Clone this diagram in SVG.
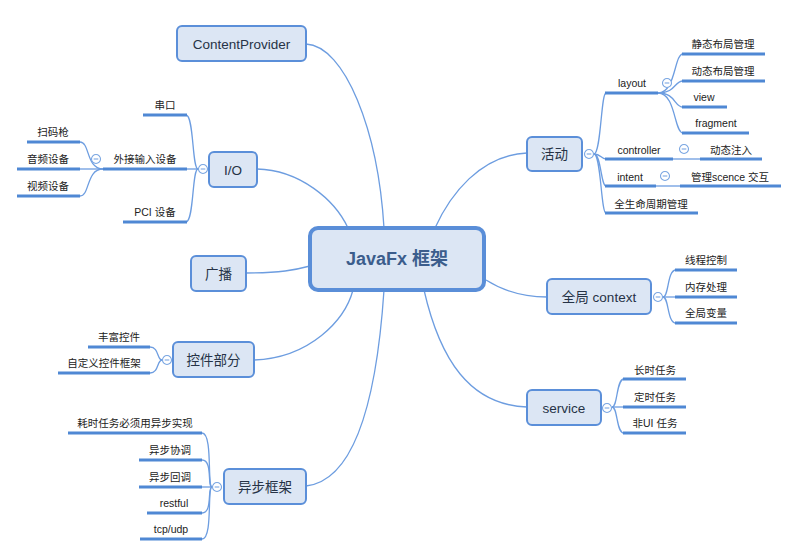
<svg xmlns="http://www.w3.org/2000/svg" xmlns:xlink="http://www.w3.org/1999/xlink" width="800" height="542" viewBox="0 0 800 542">
<style>
text{font-family:"Liberation Sans","Noto Sans CJK SC",sans-serif;fill:#222;}
.box{fill:#dce6f4;stroke:#5b8fd9;stroke-width:2;}
.root{fill:#dce6f4;stroke:#5a8ed8;stroke-width:4;}
.lbl{font-size:13.5px;text-anchor:middle;fill:#263346;}
.rt{font-size:18px;font-weight:bold;text-anchor:middle;fill:#3b5d8c;}
.sub{font-size:10.5px;text-anchor:middle;}
.ul{stroke:#4f88d4;stroke-width:3;fill:none;}
.ln{stroke:#6d9de0;stroke-width:1.3;fill:none;}
.col circle{fill:#fff;stroke:#7aa6e2;stroke-width:1.1;}
.col line{stroke:#7aa6e2;stroke-width:1.1;}
</style>
<defs>
<g id="minus" class="col"><circle cx="0" cy="0" r="4.5"/><line x1="-2.3" y1="0" x2="2.3" y2="0"/></g>
</defs>
<rect width="800" height="542" fill="#fff"/>

<g id="connectors">
<!-- main -->
<path class="ln" d="M306,44 C345,46 378,130 384,228"/>
<path class="ln" d="M257,169 C300,170 335,200 348,228"/>
<path class="ln" d="M246,273 C280,273 295,270 310,266"/>
<path class="ln" d="M254,360 C310,358 345,320 353,290"/>
<path class="ln" d="M306,486 C360,480 378,380 384,290"/>
<path class="ln" d="M527,153 C480,155 450,195 435,228"/>
<path class="ln" d="M486,280 C505,292 525,297 547,297"/>
<path class="ln" d="M527,407 C470,405 440,360 424,290"/>
<!-- 活动 children -->
<path class="ln" d="M594,154 C601,154 601,93 606,93"/>
<path class="ln" d="M594,154 C601,154 601,159 606,159"/>
<path class="ln" d="M594,154 C601,154 601,186 606,186"/>
<path class="ln" d="M594,154 C601,154 601,213 606,213"/>
<!-- layout children -->
<path class="ln" d="M658,93 C676,93 674,54 683,54"/>
<path class="ln" d="M658,93 C676,93 674,81 683,81"/>
<path class="ln" d="M658,93 C676,93 674,107 683,107"/>
<path class="ln" d="M658,93 C676,93 674,133 683,133"/>
<path class="ln" d="M673,159 L700,159"/>
<path class="ln" d="M656,186 L680,186"/>
<!-- I/O children -->
<path class="ln" d="M198,169 C192,169 194,115 186,115"/>
<path class="ln" d="M198,169 L187,169"/>
<path class="ln" d="M198,169 C192,169 194,222 186,222"/>
<!-- 外接输入设备 children -->
<path class="ln" d="M103,169 C86,169 90,142 80,142"/>
<path class="ln" d="M103,169 L80,169"/>
<path class="ln" d="M103,169 C86,169 90,196 80,196"/>
<!-- 控件部分 children -->
<path class="ln" d="M162,360 C157,360 159,347 150,347"/>
<path class="ln" d="M162,360 C157,360 159,373 150,373"/>
<!-- 异步框架 children -->
<path class="ln" d="M212,487 C207,487 213,433 202,433"/>
<path class="ln" d="M212,487 C207,487 213,460 202,460"/>
<path class="ln" d="M212,487 L202,487"/>
<path class="ln" d="M212,487 C207,487 213,513 202,513"/>
<path class="ln" d="M212,487 C207,487 213,539 202,539"/>
<!-- 全局 context children -->
<path class="ln" d="M663,297 C669,297 667,270 676,270"/>
<path class="ln" d="M663,297 L676,297"/>
<path class="ln" d="M663,297 C669,297 667,323 676,323"/>
<!-- service children -->
<path class="ln" d="M612,407 C618,407 616,379 624,379"/>
<path class="ln" d="M612,407 L624,407"/>
<path class="ln" d="M612,407 C618,407 616,433 624,433"/>
</g>

<g id="root"><rect class="root" x="310" y="228" width="174" height="62" rx="8"/><text class="rt" x="397" y="265">JavaFx 框架</text></g>

<g id="n-contentprovider"><rect class="box" x="177" y="26" width="129" height="35" rx="5"/><text class="lbl" x="241.5" y="48.5">ContentProvider</text></g>
<g id="n-io"><rect class="box" x="209" y="152" width="48" height="35" rx="5"/><text class="lbl" x="233" y="174.5">I/O</text><use xlink:href="#minus" x="203" y="169"/></g>
<g id="n-broadcast"><rect class="box" x="191" y="256" width="55" height="35" rx="5"/><text class="lbl" x="218.5" y="278.5">广播</text></g>
<g id="n-controls"><rect class="box" x="173" y="342" width="81" height="35" rx="5"/><text class="lbl" x="213.5" y="364.5">控件部分</text><use xlink:href="#minus" x="167" y="360"/></g>
<g id="n-async"><rect class="box" x="224" y="469" width="82" height="35" rx="5"/><text class="lbl" x="265" y="491.5">异步框架</text><use xlink:href="#minus" x="217" y="487"/></g>
<g id="n-activity"><rect class="box" x="527" y="137" width="55" height="34" rx="5"/><text class="lbl" x="554.5" y="159">活动</text><use xlink:href="#minus" x="589" y="154"/></g>
<g id="n-context"><rect class="box" x="547" y="279" width="104" height="35" rx="5"/><text class="lbl" x="599" y="301.5">全局 context</text><use xlink:href="#minus" x="658" y="297"/></g>
<g id="n-service"><rect class="box" x="527" y="390" width="74" height="35" rx="5"/><text class="lbl" x="564" y="412.5">service</text><use xlink:href="#minus" x="607" y="408"/></g>

<!-- 活动 subtopics -->
<g id="s-layout"><line class="ul" x1="605" y1="93" x2="658" y2="93"/><text class="sub" x="632" y="87">layout</text><use xlink:href="#minus" x="667" y="83"/></g>
<g id="s-static"><line class="ul" x1="682" y1="54" x2="765" y2="54"/><text class="sub" x="723" y="48">静态布局管理</text></g>
<g id="s-dynamic"><line class="ul" x1="682" y1="81" x2="765" y2="81"/><text class="sub" x="723" y="75">动态布局管理</text></g>
<g id="s-view"><line class="ul" x1="682" y1="107" x2="727" y2="107"/><text class="sub" x="704" y="101">view</text></g>
<g id="s-fragment"><line class="ul" x1="682" y1="133" x2="749" y2="133"/><text class="sub" x="716" y="127">fragment</text></g>
<g id="s-controller"><line class="ul" x1="605" y1="159" x2="673" y2="159"/><text class="sub" x="639" y="154">controller</text><use xlink:href="#minus" x="684" y="149"/></g>
<g id="s-inject"><line class="ul" x1="700" y1="159" x2="762" y2="159"/><text class="sub" x="731" y="154">动态注入</text></g>
<g id="s-intent"><line class="ul" x1="605" y1="186" x2="656" y2="186"/><text class="sub" x="630" y="181">intent</text><use xlink:href="#minus" x="665" y="176"/></g>
<g id="s-scence"><line class="ul" x1="680" y1="186" x2="781" y2="186"/><text class="sub" x="730" y="181">管理scence 交互</text></g>
<g id="s-lifecycle"><line class="ul" x1="605" y1="213" x2="698" y2="213"/><text class="sub" x="651" y="208">全生命周期管理</text></g>

<!-- I/O subtopics -->
<g id="s-serial"><line class="ul" x1="143" y1="115" x2="187" y2="115"/><text class="sub" x="165" y="109">串口</text></g>
<g id="s-external"><line class="ul" x1="103" y1="169" x2="187" y2="169"/><text class="sub" x="145" y="163">外接输入设备</text><use xlink:href="#minus" x="96" y="159"/></g>
<g id="s-pci"><line class="ul" x1="123" y1="222" x2="187" y2="222"/><text class="sub" x="155" y="216">PCI 设备</text></g>
<g id="s-scanner"><line class="ul" x1="27" y1="142" x2="80" y2="142"/><text class="sub" x="53" y="136">扫码枪</text></g>
<g id="s-audio"><line class="ul" x1="17" y1="169" x2="80" y2="169"/><text class="sub" x="48" y="163">音频设备</text></g>
<g id="s-video"><line class="ul" x1="17" y1="196" x2="80" y2="196"/><text class="sub" x="48" y="190">视频设备</text></g>

<!-- 控件部分 subtopics -->
<g id="s-rich"><line class="ul" x1="88" y1="347" x2="150" y2="347"/><text class="sub" x="119" y="341">丰富控件</text></g>
<g id="s-custom"><line class="ul" x1="58" y1="373" x2="150" y2="373"/><text class="sub" x="104" y="367">自定义控件框架</text></g>

<!-- 异步框架 subtopics -->
<g id="s-longtask"><line class="ul" x1="68" y1="433" x2="202" y2="433"/><text class="sub" x="135" y="427">耗时任务必须用异步实现</text></g>
<g id="s-coord"><line class="ul" x1="139" y1="460" x2="202" y2="460"/><text class="sub" x="170" y="454">异步协调</text></g>
<g id="s-callback"><line class="ul" x1="139" y1="487" x2="202" y2="487"/><text class="sub" x="170" y="481">异步回调</text></g>
<g id="s-restful"><line class="ul" x1="147" y1="513" x2="202" y2="513"/><text class="sub" x="174" y="507">restful</text></g>
<g id="s-tcp"><line class="ul" x1="140" y1="539" x2="202" y2="539"/><text class="sub" x="171" y="533">tcp/udp</text></g>

<!-- 全局 context subtopics -->
<g id="s-thread"><line class="ul" x1="675" y1="270" x2="737" y2="270"/><text class="sub" x="706" y="264">线程控制</text></g>
<g id="s-memory"><line class="ul" x1="675" y1="297" x2="737" y2="297"/><text class="sub" x="706" y="291">内存处理</text></g>
<g id="s-globalvar"><line class="ul" x1="675" y1="323" x2="737" y2="323"/><text class="sub" x="706" y="317">全局变量</text></g>

<!-- service subtopics -->
<g id="s-long"><line class="ul" x1="623" y1="379" x2="686" y2="379"/><text class="sub" x="655" y="374">长时任务</text></g>
<g id="s-timed"><line class="ul" x1="623" y1="407" x2="686" y2="407"/><text class="sub" x="655" y="401">定时任务</text></g>
<g id="s-nonui"><line class="ul" x1="623" y1="433" x2="686" y2="433"/><text class="sub" x="655" y="427">非UI 任务</text></g>
</svg>
